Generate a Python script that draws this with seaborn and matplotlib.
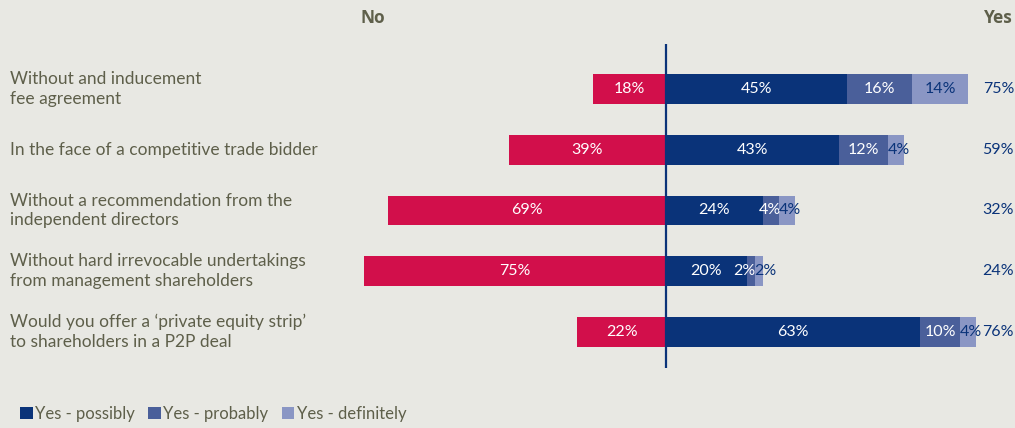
import matplotlib
matplotlib.use("Agg")
import matplotlib.pyplot as plt
import matplotlib.transforms as mtransforms
from matplotlib.patches import Patch
import seaborn as sns
import pandas as pd

categories = [
    "Without and inducement\nfee agreement",
    "In the face of a competitive trade bidder",
    "Without a recommendation from the\nindependent directors",
    "Without hard irrevocable undertakings\nfrom management shareholders",
    "Would you offer a \u2018private equity strip\u2019\nto shareholders in a P2P deal",
]
no_vals = [18, 39, 69, 75, 22]
possibly = [45, 43, 24, 20, 63]
probably = [16, 12, 4, 2, 10]
definitely = [14, 4, 4, 2, 4]
yes_totals = [75, 59, 32, 24, 76]
legend_labels = ["Yes - possibly", "Yes - probably", "Yes - definitely"]

BG = "#E8E8E3"
RED = "#D20F4B"
NAVY = "#0A3379"
MED = "#4A5F9A"
LIGHT = "#8A96C4"
TXT = "#5E5F4A"

sns.set_theme(style="white")
plt.rcParams["font.family"] = ["Lato", "DejaVu Sans"]

df = pd.DataFrame({
    "cat": categories,
    "no": [-v for v in no_vals],
    "c1": possibly,
    "c2": [a + b for a, b in zip(possibly, probably)],
    "c3": [a + b + c for a, b, c in zip(possibly, probably, definitely)],
})

fig = plt.figure(figsize=(10.15, 4.28), dpi=100, facecolor=BG)
ax = fig.add_axes([0, 0, 1, 1])
ax.set_facecolor(BG)

bw = 0.49
for col, colr in [("c3", LIGHT), ("c2", MED), ("c1", NAVY), ("no", RED)]:
    sns.barplot(data=df, x=col, y="cat", orient="h", color=colr, width=bw,
                saturation=1, ax=ax, order=categories, linewidth=0)

ppx = 4.03
ax.set_xlim(-666 / ppx, 349 / ppx)
rs = 60.75
ax.set_ylim((428 - 89) / rs, -89 / rs)
ax.axis("off")

# center line
ax.plot([0, 0], [(44 - 89) / rs, (368 - 89) / rs], color=NAVY, lw=1.6,
        solid_capstyle="butt", zorder=5)

fs = 11.5
lfs = 12.5
blend = mtransforms.blended_transform_factory(fig.transFigure, ax.transData)
for i, cat in enumerate(categories):
    ax.text(10 / 1015, i, cat, transform=blend, ha="left", va="center",
            fontsize=lfs, color=TXT, linespacing=1.3)
    ax.text(-no_vals[i] / 2, i, f"{no_vals[i]}%", ha="center", va="center",
            fontsize=fs, color="white")
    ax.text(possibly[i] / 2, i, f"{possibly[i]}%", ha="center", va="center",
            fontsize=fs, color="white")
    # probably segment label
    s0 = possibly[i]
    s1 = possibly[i] + probably[i]
    if probably[i] < 3:
        ax.text(s1 + 0.3, i, f"{probably[i]}%", ha="right", va="center",
                fontsize=fs, color="white")
    elif probably[i] <= 5:
        ax.text(s0 - 1.0, i, f"{probably[i]}%", ha="left", va="center",
                fontsize=fs, color="white")
    else:
        ax.text((s0 + s1) / 2, i, f"{probably[i]}%", ha="center", va="center",
                fontsize=fs, color="white")
    # definitely segment label
    s2 = s1 + definitely[i]
    if definitely[i] <= 5:
        ax.text(s1 + 0.0, i, f"{definitely[i]}%", ha="left", va="center",
                fontsize=fs, color=NAVY)
    else:
        ax.text((s1 + s2) / 2, i, f"{definitely[i]}%", ha="center", va="center",
                fontsize=fs, color=NAVY)
    ax.text(1014 / 1015, i, f"{yes_totals[i]}%", transform=blend, ha="right",
            va="center", fontsize=fs, color=NAVY)

fig.text(373 / 1015, 1 - 18 / 428, "No", ha="center", va="center",
         fontsize=12.5, fontweight="bold", color=TXT,
         family=["Open Sans", "DejaVu Sans"])
fig.text(1013 / 1015, 1 - 18 / 428, "Yes", ha="right", va="center",
         fontsize=12.5, fontweight="bold", color=TXT,
         family=["Open Sans", "DejaVu Sans"])

handles = [Patch(facecolor=c, edgecolor="none") for c in (NAVY, MED, LIGHT)]
fig.legend(handles, legend_labels, loc="center left",
           bbox_to_anchor=(5 / 1015, 1 - 414 / 428), ncol=3, frameon=False,
           fontsize=12, handlelength=0.75, handleheight=0.75, handletextpad=0.15,
           columnspacing=0.8, labelcolor=TXT)

fig.savefig("out.png", dpi=100, facecolor=BG)
